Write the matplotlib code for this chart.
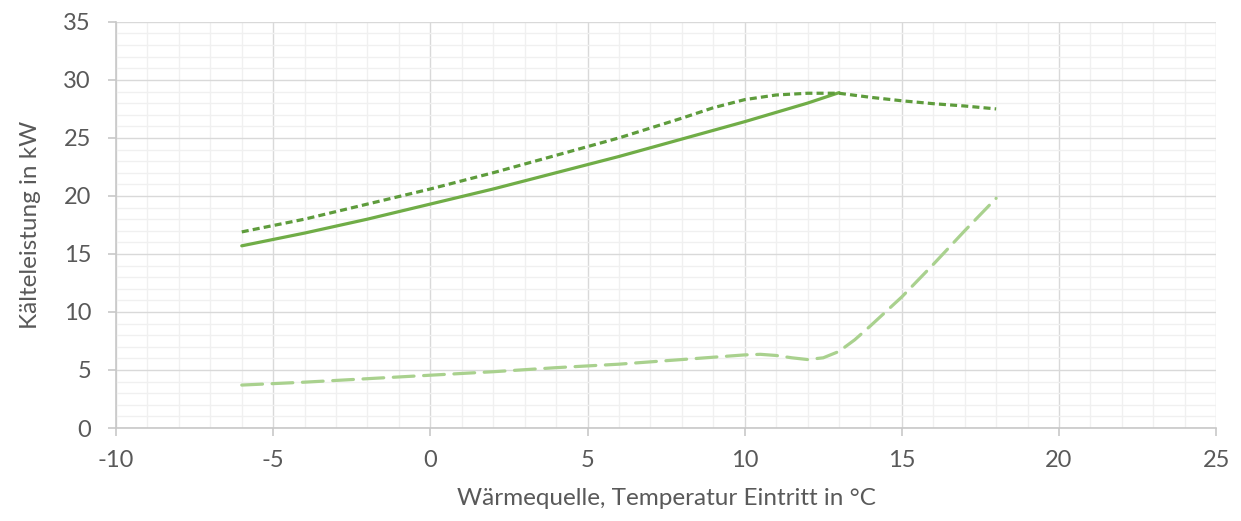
import matplotlib
matplotlib.use("Agg")
from matplotlib import pyplot as plt
from matplotlib.ticker import MultipleLocator

plt.rcParams['font.family'] = ['Lato', 'DejaVu Sans']
plt.rcParams['axes.unicode_minus'] = False

# Kälteleistung, durchgezogen (bis 13 °C)
x_solid = [-6, -4, -2, 0, 2, 4, 6, 8, 10, 11, 12, 13]
y_solid = [15.7, 16.8, 18.0, 19.3, 20.6, 22.0, 23.4, 24.9, 26.4, 27.2, 28.0, 28.9]

# gepunktet
x_dot = [-6, -4, -2, 0, 2, 4, 6, 8, 9, 10, 11, 12, 13, 14, 15, 16, 17, 18]
y_dot = [16.9, 18.0, 19.3, 20.6, 22.0, 23.5, 25.0, 26.7, 27.6, 28.3, 28.7, 28.85, 28.85,
         28.5, 28.2, 27.95, 27.75, 27.5]

# gestrichelt
x_dash = [-6, -4, -2, 0, 2, 4, 6, 8, 9, 10, 10.5, 11, 11.5, 12, 12.5, 13, 13.5,
          14, 15, 16, 17, 18]
y_dash = [3.7, 3.95, 4.25, 4.55, 4.85, 5.2, 5.5, 5.9, 6.1, 6.3, 6.35, 6.25, 6.05,
          5.9, 6.05, 6.6, 7.6, 8.8, 11.3, 14.1, 17.0, 19.8]

fig = plt.figure(figsize=(12.41, 5.21), dpi=100)
ax = fig.add_axes([0.0935, 0.1785, 0.8865, 0.7795])

ax.plot(x_solid, y_solid, color='#70ad47', lw=2.3, solid_capstyle='round',
        solid_joinstyle='round', zorder=3)
ax.plot(x_dot, y_dot, color='#5e9c3c', lw=2.3, linestyle=(0, (2.2, 1.3)), zorder=3)
ax.plot(x_dash, y_dash, color='#a9d18e', lw=2.3, linestyle=(0, (6.5, 3)),
        dash_capstyle='round', zorder=3)

ax.set_xlim(-10, 25)
ax.set_ylim(0, 35)
ax.xaxis.set_major_locator(MultipleLocator(5))
ax.yaxis.set_major_locator(MultipleLocator(5))
ax.xaxis.set_minor_locator(MultipleLocator(1))
ax.yaxis.set_minor_locator(MultipleLocator(1))

ax.grid(which='major', color='#d9d9d9', lw=1.0)
ax.grid(which='minor', color='#f0f0f0', lw=1.0)
ax.set_axisbelow(True)

for s in ['top', 'right']:
    ax.spines[s].set_visible(False)
for s in ['left', 'bottom']:
    ax.spines[s].set_color('#c8c8c8')
    ax.spines[s].set_linewidth(1.2)

ax.tick_params(which='major', direction='out', length=6, width=1.2, color='#c8c8c8',
               labelsize=17, labelcolor='#595959')
ax.tick_params(axis='y', pad=12)
ax.tick_params(axis='x', pad=10)
ax.tick_params(which='minor', length=0)

ax.set_xlabel('Wärmequelle, Temperatur Eintritt in °C', fontsize=17.5, color='#595959', labelpad=12)
ax.set_ylabel('Kälteleistung in kW', fontsize=17.5, color='#595959', labelpad=16)

fig.savefig('out.png', dpi=100)
